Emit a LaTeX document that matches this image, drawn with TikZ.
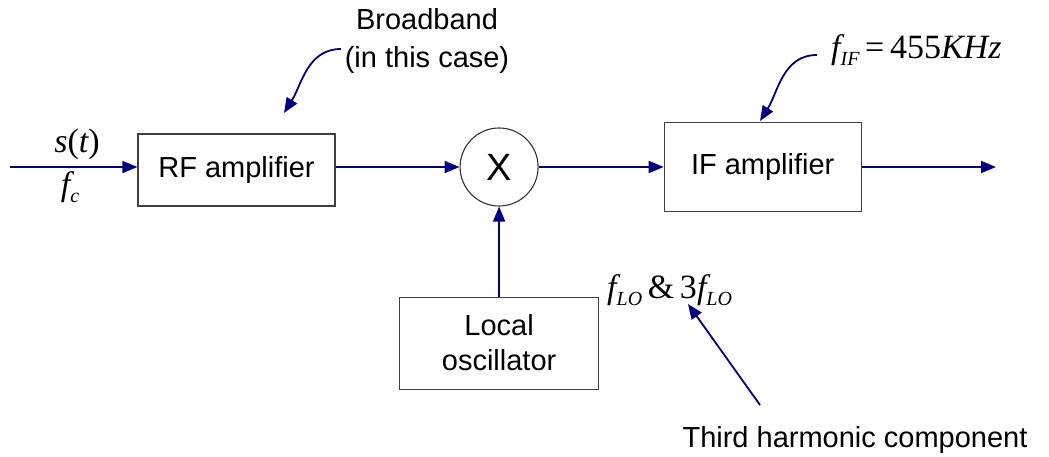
\documentclass[tikz,border=0pt]{standalone}
\usepackage{fontspec}
\setmainfont{Liberation Sans}
\newfontfamily\tms{Liberation Serif}
\usetikzlibrary{positioning,arrows.meta}

\definecolor{wire}{RGB}{0,0,128}
\newcommand{\mi}[1]{{\tms\itshape #1}}
\newcommand{\mr}[1]{{\tms #1}}
\newcommand{\lo}[1]{\raisebox{-0.4ex}{\fontsize{20}{20}\selectfont\tms\itshape #1}}

\begin{document}
\begin{tikzpicture}[x=1pt, y=-1pt,
    font=\fontsize{29}{35}\selectfont,
    block/.style={draw=black!75, line width=1.1pt, minimum width=197pt, minimum height=72pt, inner sep=0pt},
    formula/.style={font=\fontsize{34}{38}\selectfont},
    arr/.style={wire, line width=1.8pt, -{Triangle[length=15pt,width=12pt]}}]
    \useasboundingbox (0,0) rectangle (1049,457);

    \node[block] (rf) at (236.5,170) {RF amplifier};
    \node[draw=black!80, line width=1.1pt, circle, minimum size=78pt, inner sep=0pt,
          font=\fontsize{38}{40}\selectfont] [right=124pt of rf.east, anchor=west, yshift=3pt] (mix) {X};
    \node[block, minimum height=89pt] [right=125pt of mix.east, anchor=west] (if) {IF amplifier};
    \node[block, minimum width=199pt, minimum height=92pt, align=center]
          [below=90pt of mix.south, anchor=north] (lo) {Local\\oscillator};

    \coordinate (in) at (10,167);
    \coordinate (out) at (996,167);
    \draw[arr] (in) -- (in -| rf.west);
    \draw[arr] (rf.east |- mix) -- (mix.west);
    \draw[arr] (mix.east) -- (mix -| if.west);
    \draw[arr] (if.east |- out) -- (out);
    \draw[arr] (lo.north) -- (mix.south);

    % labels
    \node[formula] (st) at (77,144) {\mi{s}\mr{(}\mi{t}\mr{)}};
    \node[formula] (fc) at (70,187) {\mi{f}\lo{c}};
    \node[align=center, inner sep=1pt, font=\fontsize{29}{38}\selectfont] (bb) at (427,41) {Broadband\\(in this case)};
    \node[formula, anchor=west, inner sep=0pt] (fif) at (831,50) {\mi{f}\lo{IF}\,\mr{=}\,\mr{455}\mi{KHz}};
    \node[formula, anchor=west, inner sep=0pt] (flo) at (607,290) {\mi{f}\lo{LO}\,\mr{\&}\,\mr{3}\mi{f}\lo{LO}};
    \node (third) at (855,440) {Third harmonic component};

    % pointers
    \coordinate (bbtail) at (341,49);
    \coordinate (bbtip) at (284,113);
    \coordinate (iftail) at (817,55);
    \coordinate (iftip) at (760,121);
    \coordinate (thirdtail) at (760,405);
    \coordinate (flotip) at (688,304);
    \draw[arr] (bbtail) to[out=180, in=58] (bbtip);
    \draw[arr] (iftail) to[out=180, in=58] (iftip);
    \draw[arr] (thirdtail) -- (flotip);
\end{tikzpicture}
\end{document}
